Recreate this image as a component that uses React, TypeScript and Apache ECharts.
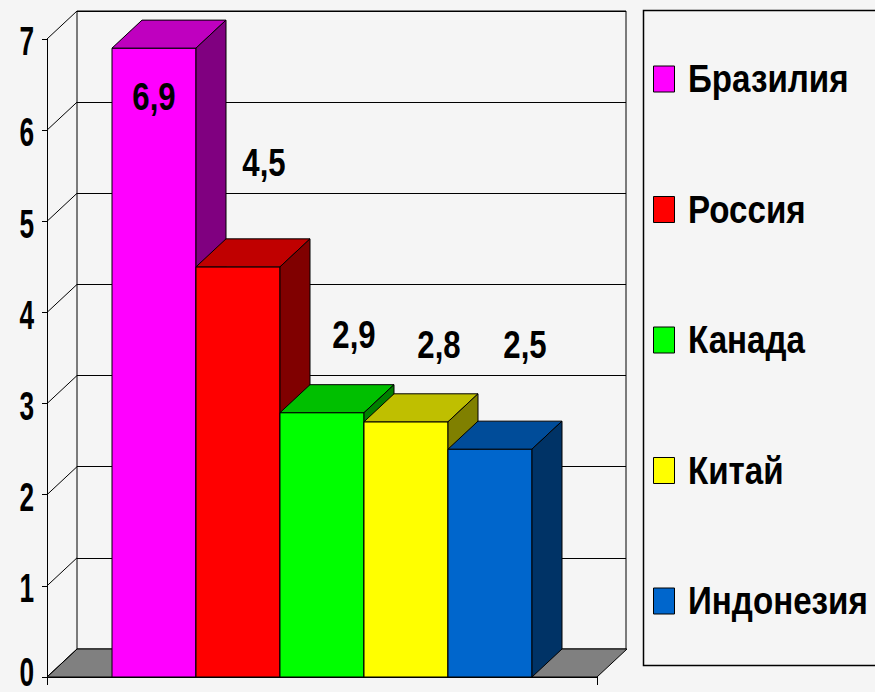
import React, { useEffect, useRef } from "react";
import * as echarts from "echarts";

const countries = ["Бразилия", "Россия", "Канада", "Китай", "Индонезия"];
const values = [6.9, 4.5, 2.9, 2.8, 2.5];
const categories = [""];
const yTicks = [0, 1, 2, 3, 4, 5, 6, 7];

const frontColors = ["#FF00FF", "#FF0000", "#00FF00", "#FFFF00", "#0066CC"];
const topColors = ["#BF00BF", "#C00000", "#00BF00", "#BFBF00", "#004C99"];
const sideColors = ["#800080", "#800000", "#008000", "#808000", "#003366"];
const labelOffsets = [
  [0, 49],
  [26, -104],
  [32, -78],
  [33, -77],
  [35, -104],
];

const DX = 30;
const DY = -28;
const BAR_RATIO = 84 / 550;
const FONT = "'Liberation Sans',Arial,sans-serif";

export default function App() {
  const ref = useRef<HTMLDivElement>(null);
  useEffect(() => {
    if (!ref.current) return;
    const chart = echarts.init(ref.current, undefined, { renderer: "svg" });

    const barSeries = countries.map((name, i) => ({
      name,
      type: "custom",
      xAxisIndex: 0,
      yAxisIndex: 0,
      silent: true,
      itemStyle: { color: frontColors[i] },
      encode: { x: 0, y: 1 },
      data: [[0, values[i]]],
      renderItem: (params: any, api: any) => {
        const v = api.value(1);
        const cs = params.coordSys;
        const band = cs.width / categories.length;
        const base = api.coord([0, 0]);
        const top = api.coord([0, v]);
        const w = band * BAR_RATIO;
        const x0 = base[0] - 2.5 * w + i * w;
        const ty = top[1];
        const by = base[1];
        const st = { stroke: "#000", lineWidth: 1 };
        const off = labelOffsets[i];
        return {
          type: "group",
          children: [
            { type: "rect", shape: { x: x0, y: ty, width: w, height: by - ty }, style: { fill: frontColors[i], ...st } },
            {
              type: "polygon",
              shape: { points: [[x0, ty], [x0 + w, ty], [x0 + w + DX, ty + DY], [x0 + DX, ty + DY]] },
              style: { fill: topColors[i], ...st },
            },
            {
              type: "polygon",
              shape: { points: [[x0 + w, ty], [x0 + w + DX, ty + DY], [x0 + w + DX, by + DY], [x0 + w, by]] },
              style: { fill: sideColors[i], ...st },
            },
            {
              type: "text",
              x: x0 + w / 2 + off[0],
              y: ty + off[1],
              scaleX: 0.82,
              z2: 10,
              style: {
                text: String(v).replace(".", ","),
                fill: "#000",
                fontFamily: FONT,
                fontWeight: "bold",
                fontSize: 38,
                align: "center",
                verticalAlign: "middle",
              },
            },
          ],
        };
      },
    }));

    const legendItems: any[] = [];
    countries.forEach((name, i) => {
      const cy = 79 + i * 130.5;
      legendItems.push({
        type: "rect",
        shape: { x: 653.5, y: cy - 13, width: 21, height: 26 },
        style: { fill: frontColors[i], stroke: "#000", lineWidth: 1 },
        silent: true,
      });
      legendItems.push({
        type: "text",
        x: 688,
        y: cy,
        scaleX: 0.85,
        style: {
          text: name,
          fill: "#000",
          fontFamily: FONT,
          fontWeight: "bold",
          fontSize: 39,
          align: "left",
          verticalAlign: "middle",
        },
        silent: true,
      });
    });

    const option: any = {
      animation: false,
      backgroundColor: "#f5f5f5",
      grid: [
        { left: 47, right: 278, top: 39, bottom: 15 },
        { left: 77, right: 249, top: 11, bottom: 43, show: true, borderColor: "#000", borderWidth: 1, backgroundColor: "transparent" },
      ],
      xAxis: [
        {
          type: "category",
          gridIndex: 0,
          data: categories,
          boundaryGap: true,
          axisLine: { show: true, lineStyle: { color: "#000", width: 1 } },
          axisTick: { show: true, length: 8, lineStyle: { color: "#000" } },
          axisLabel: { show: false },
          splitLine: { show: false },
        },
        {
          type: "value",
          gridIndex: 1,
          show: false,
          min: 0,
          max: 1,
        },
      ],
      yAxis: [
        {
          type: "value",
          gridIndex: 0,
          min: 0,
          max: 7,
          interval: 1,
          axisLine: { show: true, lineStyle: { color: "#000", width: 1 } },
          axisTick: { show: true, length: 5, lineStyle: { color: "#000" } },
          axisLabel: { show: false },
          splitLine: { show: false },
        },
        {
          type: "value",
          gridIndex: 1,
          min: 0,
          max: 7,
          interval: 1,
          axisLine: { show: false },
          axisTick: { show: false },
          axisLabel: { show: false },
          splitLine: { show: true, lineStyle: { color: "#000", width: 1 } },
        },
      ],
      graphic: [
        {
          type: "rect",
          shape: { x: 643.5, y: 10.5, width: 260, height: 655 },
          style: { fill: "none", stroke: "#000", lineWidth: 1.5 },
          silent: true,
        },
        ...legendItems,
      ],
      series: [
        {
          name: "floor",
          type: "custom",
          xAxisIndex: 0,
          yAxisIndex: 0,
          silent: true,
          encode: { x: 0, y: 1 },
          data: [[0, 0]],
          renderItem: (params: any, api: any) => {
            const cs = params.coordSys;
            const y0 = api.coord([0, 0])[1];
            const l = cs.x;
            const r = cs.x + cs.width;
            return {
              type: "polygon",
              shape: { points: [[l, y0], [r, y0], [r + DX, y0 + DY], [l + DX, y0 + DY]] },
              style: { fill: "#808080", stroke: "#000", lineWidth: 1 },
            };
          },
        },
        {
          name: "walls",
          type: "custom",
          xAxisIndex: 0,
          yAxisIndex: 0,
          silent: true,
          encode: { x: 0, y: 1 },
          data: yTicks.map((t) => [0, t]),
          renderItem: (params: any, api: any) => {
            const cs = params.coordSys;
            const t = api.value(1);
            const y = api.coord([0, t])[1];
            const l = cs.x;
            const bottomLimit = cs.y + cs.height - 5;
            return {
              type: "group",
              children: [
                {
                  type: "line",
                  shape: { x1: l, y1: y, x2: l + DX, y2: y + DY },
                  style: { stroke: "#000", lineWidth: 1 },
                },
                {
                  type: "text",
                  x: l - 13,
                  y: Math.min(y + 2, bottomLimit),
                  scaleX: 0.64,
                  style: {
                    text: String(t),
                    fill: "#000",
                    fontFamily: FONT,
                    fontWeight: "bold",
                    fontSize: 41,
                    align: "right",
                    verticalAlign: "middle",
                  },
                },
              ],
            };
          },
        },
        ...barSeries,
      ],
    };
    chart.setOption(option);
    return () => chart.dispose();
  }, []);
  return <div ref={ref} style={{ position: "absolute", left: 0, top: 0, width: 875, height: 692 }} />;
}
